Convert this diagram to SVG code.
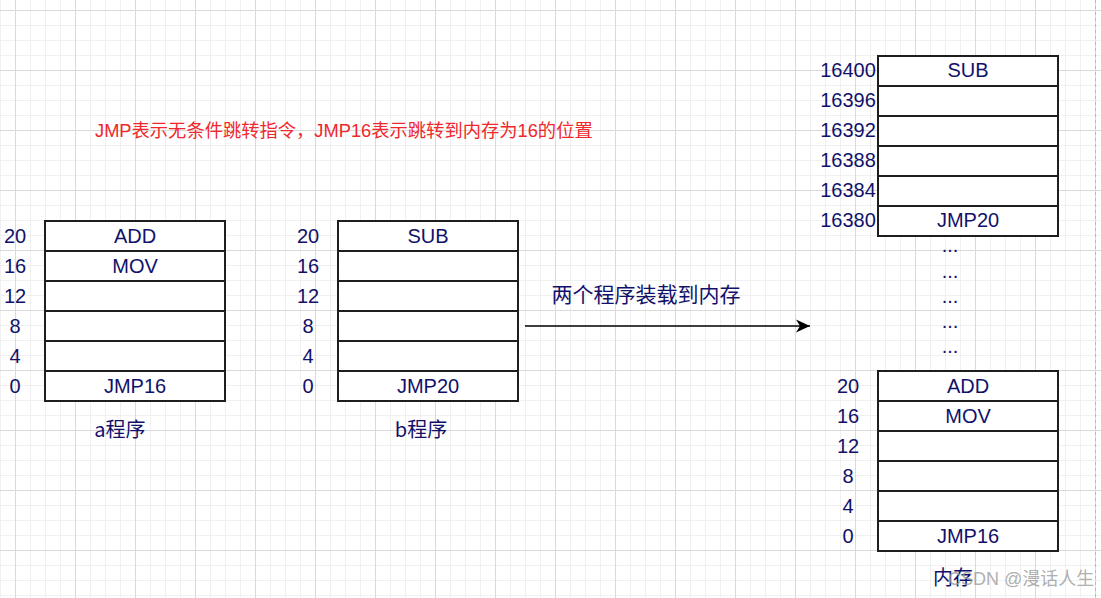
<svg xmlns="http://www.w3.org/2000/svg" width="1101" height="598" viewBox="0 0 1101 598">
<defs>
<pattern id="grid" patternUnits="userSpaceOnUse" x="15" y="10" width="60" height="60">
<rect x="0" y="0" width="60" height="60" fill="#ffffff"/>
<rect x="15" y="0" width="1" height="60" fill="#f0f0f0"/>
<rect x="30" y="0" width="1" height="60" fill="#f0f0f0"/>
<rect x="45" y="0" width="1" height="60" fill="#f0f0f0"/>
<rect x="0" y="15" width="60" height="1" fill="#f0f0f0"/>
<rect x="0" y="30" width="60" height="1" fill="#f0f0f0"/>
<rect x="0" y="45" width="60" height="1" fill="#f0f0f0"/>
<rect x="0" y="0" width="1" height="60" fill="#dadada"/>
<rect x="0" y="0" width="60" height="1" fill="#dadada"/>
</pattern>
<marker id="arrow" markerUnits="userSpaceOnUse" markerWidth="16" markerHeight="14" refX="14" refY="7" orient="auto">
<path d="M14,7 L0,0.5 L4,7 L0,13.5 Z" fill="#000"/>
</marker>
</defs>
<style>
.cell{fill:#ffffff;stroke:#1e1e1e;stroke-width:2}
.t{font-family:"Liberation Sans","Noto Sans CJK SC",sans-serif;font-size:20px;fill:#11116b;text-anchor:middle}
.cjk{font-family:"Noto Sans CJK SC","Liberation Sans",sans-serif;font-size:20px;fill:#11116b;text-anchor:middle}
.red{font-family:"Liberation Sans","Noto Sans CJK SC",sans-serif;font-size:18.3px;fill:#f0282d}
.wm{font-family:"Liberation Sans","Noto Sans CJK SC",sans-serif;font-size:18px;fill:#9a9a9a;fill-opacity:0.8}
</style>
<rect x="0" y="0" width="1101" height="598" fill="url(#grid)"/>
<line x1="1095.5" y1="0" x2="1095.5" y2="598" stroke="#b8b8b8" stroke-width="1" stroke-dasharray="3,3"/>

<g id="note">
<text class="red" x="95" y="137">JMP表示无条件跳转指令，JMP16表示跳转到内存为16的位置</text>
</g>

<g id="program-a">
<rect class="cell" x="45" y="221" width="180" height="30"/>
<rect class="cell" x="45" y="251" width="180" height="30"/>
<rect class="cell" x="45" y="281" width="180" height="30"/>
<rect class="cell" x="45" y="311" width="180" height="30"/>
<rect class="cell" x="45" y="341" width="180" height="30"/>
<rect class="cell" x="45" y="371" width="180" height="30"/>
<text class="t" x="135" y="243">ADD</text>
<text class="t" x="135" y="273">MOV</text>
<text class="t" x="135" y="393">JMP16</text>
<text class="t" x="15" y="243">20</text>
<text class="t" x="15" y="273">16</text>
<text class="t" x="15" y="303">12</text>
<text class="t" x="15" y="333">8</text>
<text class="t" x="15" y="363">4</text>
<text class="t" x="15" y="393">0</text>
<text class="cjk" x="120" y="437">a程序</text>
</g>

<g id="program-b">
<rect class="cell" x="338" y="221" width="180" height="30"/>
<rect class="cell" x="338" y="251" width="180" height="30"/>
<rect class="cell" x="338" y="281" width="180" height="30"/>
<rect class="cell" x="338" y="311" width="180" height="30"/>
<rect class="cell" x="338" y="341" width="180" height="30"/>
<rect class="cell" x="338" y="371" width="180" height="30"/>
<text class="t" x="428" y="243">SUB</text>
<text class="t" x="428" y="393">JMP20</text>
<text class="t" x="308" y="243">20</text>
<text class="t" x="308" y="273">16</text>
<text class="t" x="308" y="303">12</text>
<text class="t" x="308" y="333">8</text>
<text class="t" x="308" y="363">4</text>
<text class="t" x="308" y="393">0</text>
<text class="cjk" x="421" y="437">b程序</text>
</g>

<g id="memory-top">
<rect class="cell" x="878" y="56" width="180" height="30"/>
<rect class="cell" x="878" y="86" width="180" height="30"/>
<rect class="cell" x="878" y="116" width="180" height="30"/>
<rect class="cell" x="878" y="146" width="180" height="30"/>
<rect class="cell" x="878" y="176" width="180" height="30"/>
<rect class="cell" x="878" y="206" width="180" height="30"/>
<text class="t" x="968" y="77">SUB</text>
<text class="t" x="968" y="227">JMP20</text>
<text class="t" x="848" y="77">16400</text>
<text class="t" x="848" y="107">16396</text>
<text class="t" x="848" y="137">16392</text>
<text class="t" x="848" y="167">16388</text>
<text class="t" x="848" y="197">16384</text>
<text class="t" x="848" y="227">16380</text>
</g>

<g id="ellipsis">
<text class="t" x="950" y="252">...</text>
<text class="t" x="950" y="278">...</text>
<text class="t" x="950" y="303">...</text>
<text class="t" x="950" y="328">...</text>
<text class="t" x="950" y="353">...</text>
</g>

<g id="memory-bottom">
<rect class="cell" x="878" y="371" width="180" height="30"/>
<rect class="cell" x="878" y="401" width="180" height="30"/>
<rect class="cell" x="878" y="431" width="180" height="30"/>
<rect class="cell" x="878" y="461" width="180" height="30"/>
<rect class="cell" x="878" y="491" width="180" height="30"/>
<rect class="cell" x="878" y="521" width="180" height="30"/>
<text class="t" x="968" y="393">ADD</text>
<text class="t" x="968" y="423">MOV</text>
<text class="t" x="968" y="543">JMP16</text>
<text class="t" x="848" y="393">20</text>
<text class="t" x="848" y="423">16</text>
<text class="t" x="848" y="453">12</text>
<text class="t" x="848" y="483">8</text>
<text class="t" x="848" y="513">4</text>
<text class="t" x="848" y="543">0</text>
<text class="cjk" x="953" y="585">内存</text>
</g>

<g id="connectors">
<line x1="525" y1="326" x2="810" y2="326" stroke="#000" stroke-width="1.5" marker-end="url(#arrow)"/>
<text class="cjk" x="646" y="302" style="font-size:21px">两个程序装载到内存</text>
</g>

<g id="watermark">
<text class="wm" x="948" y="585">CSDN @漫话人生</text>
</g>
</svg>
